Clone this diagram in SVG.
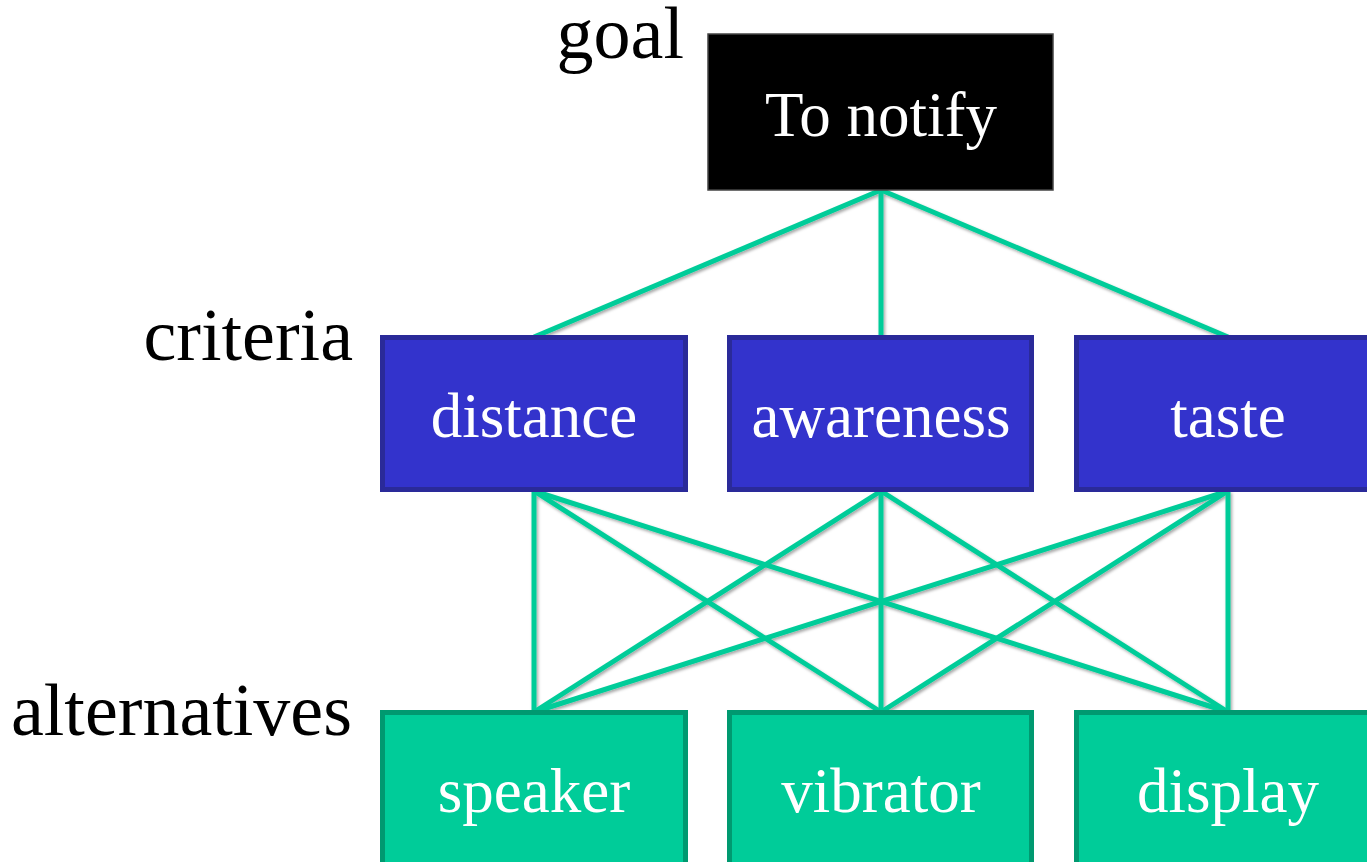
<svg xmlns="http://www.w3.org/2000/svg" width="1367" height="862" viewBox="0 0 1367 862">
  <defs>
    <filter id="shadow" x="-10%" y="-10%" width="120%" height="120%">
      <feDropShadow dx="1.5" dy="2" stdDeviation="1.5" flood-color="#000" flood-opacity="0.35"/>
    </filter>
    <style>
      .lbl { font-family: "Liberation Serif", "Times New Roman", serif; font-size: 74px; fill: #000; text-anchor: end; }
      .txt { font-family: "Liberation Serif", "Times New Roman", serif; font-size: 63px; fill: #fff; text-anchor: middle; }
      .goal { fill: #000; stroke: #444; stroke-width: 1.5; }
      .crit { fill: #3333CC; stroke: #2A2A99; stroke-width: 5; }
      .alt { fill: #00CC99; stroke: #009970; stroke-width: 5; }
      .edge { stroke: #00CC99; stroke-width: 5; fill: none; }
    </style>
  </defs>
  <rect width="1367" height="862" fill="#fff"/>

  <!-- level labels -->
  <text class="lbl" x="684" y="58">goal</text>
  <text class="lbl" x="353" y="360">criteria</text>
  <text class="lbl" x="352" y="735">alternatives</text>

  <!-- connectors -->
  <g id="connectors" class="edge" filter="url(#shadow)">
    <line x1="881" y1="190" x2="534" y2="337"/>
    <line x1="881" y1="190" x2="881" y2="337"/>
    <line x1="881" y1="190" x2="1228" y2="337"/>

    <line x1="534" y1="491" x2="534" y2="712"/>
    <line x1="534" y1="491" x2="881" y2="712"/>
    <line x1="534" y1="491" x2="1228" y2="712"/>

    <line x1="881" y1="491" x2="534" y2="712"/>
    <line x1="881" y1="491" x2="881" y2="712"/>
    <line x1="881" y1="491" x2="1228" y2="712"/>

    <line x1="1228" y1="491" x2="534" y2="712"/>
    <line x1="1228" y1="491" x2="881" y2="712"/>
    <line x1="1228" y1="491" x2="1228" y2="712"/>
  </g>

  <!-- goal -->
  <g id="node-goal">
    <rect class="goal" x="708" y="34" width="345" height="156"/>
    <text class="txt" x="881" y="136">To notify</text>
  </g>

  <!-- criteria -->
  <g id="node-distance">
    <rect class="crit" x="382.5" y="337.5" width="303" height="152"/>
    <text class="txt" x="534" y="437">distance</text>
  </g>
  <g id="node-awareness">
    <rect class="crit" x="729.5" y="337.5" width="302" height="152"/>
    <text class="txt" x="881" y="437">awareness</text>
  </g>
  <g id="node-taste">
    <rect class="crit" x="1076.5" y="337.5" width="303" height="152"/>
    <text class="txt" x="1228" y="437">taste</text>
  </g>

  <!-- alternatives -->
  <g id="node-speaker">
    <rect class="alt" x="382.5" y="712.5" width="303" height="160"/>
    <text class="txt" x="534" y="812">speaker</text>
  </g>
  <g id="node-vibrator">
    <rect class="alt" x="729.5" y="712.5" width="302" height="160"/>
    <text class="txt" x="881" y="812">vibrator</text>
  </g>
  <g id="node-display">
    <rect class="alt" x="1076.5" y="712.5" width="303" height="160"/>
    <text class="txt" x="1228" y="812">display</text>
  </g>
</svg>
